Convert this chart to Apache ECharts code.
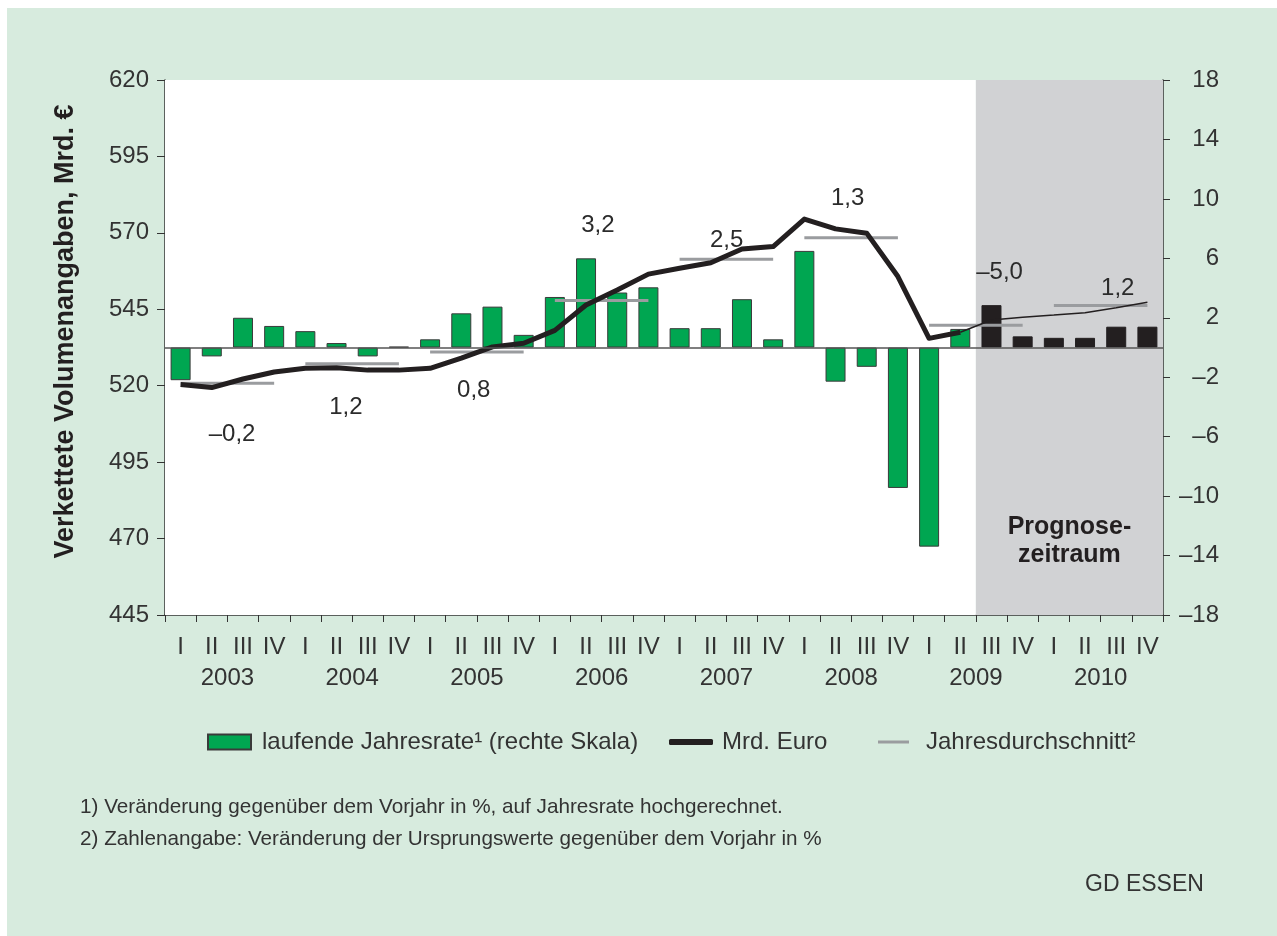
<!DOCTYPE html>
<html><head><meta charset="utf-8">
<script src="https://cdn.jsdelivr.net/npm/echarts@6/dist/echarts.min.js"></script>
<style>
html,body{margin:0;padding:0;background:#fff;}
#bg{position:absolute;left:7px;top:8px;width:1270px;height:928px;background:#d7ebde;}
#chart{position:absolute;left:0;top:0;width:1277px;height:936px;}
</style></head><body>
<div id="bg"></div><div id="chart"></div>
<script>
// ---- data ----
const quarterLabels = ['I', 'II', 'III', 'IV'];
const years = ['2003', '2004', '2005', '2006', '2007', '2008', '2009', '2010'];
// laufende Jahresrate (right axis, %), actual quarters 2003 I – 2009 II
const rateActual = [-2.2, -0.6, 2.0, 1.45, 1.1, 0.3, -0.6, 0.05, 0.55, 2.3, 2.75, 0.85,
  3.4, 6.0, 3.7, 4.05, 1.3, 1.3, 3.25, 0.55, 6.5, -2.3, -1.3, -9.45, -13.4, 1.25];
// forecast quarters 2009 III – 2010 IV
const rateForecast = [2.85, 0.75, 0.65, 0.65, 1.4, 1.4];
// Mrd. Euro (left axis), 2003 I – 2009 II
const volumeActual = [520.4, 519.4, 522.2, 524.5, 525.7, 525.9, 525.1, 525.1, 525.7, 529.0, 532.7, 533.9,
  538.1, 546.4, 551.3, 556.5, 558.4, 560.2, 564.7, 565.5, 574.5, 571.3, 569.9, 555.7, 535.5, 537.5];
// forecast path 2009 II – 2010 IV
const volumeForecast = [537.5, 541.5, 542.4, 543.1, 543.9, 545.5, 547.3];
// Jahresdurchschnitt (left axis)
const annualAvg = [520.8, 527.2, 531.0, 547.9, 561.4, 568.4, 539.8, 546.2];
const annualChange = ['–0,2', '1,2', '0,8', '3,2', '2,5', '1,3', '–5,0', '1,2'];
// annotation anchors for the change labels (quarter index, left-axis value)
const annualLabelX = [1.65, 5.30, 9.40, 13.38, 17.51, 21.39, 26.26, 30.05];
const annualLabelY = [504.0, 512.8, 518.6, 572.6, 567.7, 581.4, 557.2, 552.0];
// first forecast quarter (index of 2009 III)
const forecastFrom = 26;

// ---- derived ----
const categories = years.flatMap(y => quarterLabels.map(q => y + ' ' + q));
const N = categories.length;
const nA = rateActual.length;
const greenBars = categories.map((_, i) => i < nA ? rateActual[i] : null);
const blackBars = categories.map((_, i) => i >= nA ? rateForecast[i - nA] : null);
const volLine = categories.map((_, i) => i < volumeActual.length ? volumeActual[i] : null);
const fcStart = N - volumeForecast.length;
const volFc = categories.map((_, i) => i >= fcStart ? volumeForecast[i - fcStart] : null);
function avgSeries(parity) {
  return categories.map((_, i) => {
    const y = Math.floor(i / 4);
    return (y % 2 === parity) ? annualAvg[y] : null;
  });
}
// hidden helper x axis runs 0..N (band edges); band centre of quarter i = i + 0.5
const labelData = annualChange.map((t, i) => [annualLabelX[i] + 0.5, annualLabelY[i], t]);

const FONT = "'Liberation Sans', Arial, sans-serif";
const TXT = '#333333';
const AXIS = '#333333';
const BAR_NAME = 'laufende Jahresrate¹ (rechte Skala)';
const AVG_NAME = 'Jahresdurchschnitt²';

const chart = echarts.init(document.getElementById('chart'), null, {renderer: 'canvas'});
chart.setOption({
  backgroundColor: 'transparent',
  animation: false,
  textStyle: {fontFamily: FONT},
  grid: {left: 165, right: 114, top: 80, bottom: 321, containLabel: false},
  xAxis: [
    {
      type: 'category', data: categories, position: 'bottom', boundaryGap: true,
      axisLine: {onZero: false, lineStyle: {color: AXIS, width: 1.5}},
      axisTick: {show: true, interval: 0, length: 7, inside: false, lineStyle: {color: AXIS, width: 1}},
      axisLabel: {interval: 0, margin: 20, fontSize: 24, color: TXT, fontFamily: FONT,
        formatter: v => v.split(' ')[1]},
      splitLine: {show: false}
    },
    {type: 'value', min: 0, max: N, show: false, position: 'top',
      axisLine: {show: false, onZero: false}, axisTick: {show: false}, axisLabel: {show: false}, splitLine: {show: false}},
    {
      type: 'category', data: years, position: 'bottom', boundaryGap: true,
      axisLine: {show: false, onZero: false}, axisTick: {show: false}, splitLine: {show: false},
      axisLabel: {interval: 0, margin: 51, fontSize: 24, color: TXT, fontFamily: FONT}
    }
  ],
  yAxis: [
    {
      type: 'value', min: 445, max: 620, interval: 25, position: 'left',
      axisLine: {show: true, onZero: false, lineStyle: {color: AXIS, width: 1.5}},
      axisTick: {show: true, length: 8, lineStyle: {color: AXIS}},
      axisLabel: {fontSize: 24, color: TXT, margin: 16, fontFamily: FONT},
      splitLine: {show: false},
      name: 'Verkettete Volumenangaben, Mrd. €', nameLocation: 'middle', nameGap: 86, nameRotate: 90,
      nameTextStyle: {fontSize: 27, fontWeight: 'bold', color: '#231f20', fontFamily: FONT,
        padding: [0, 0, 0, 32]}
    },
    {
      type: 'value', min: -18, max: 18, interval: 4, position: 'right',
      axisLine: {show: true, onZero: false, lineStyle: {color: AXIS, width: 1.5}},
      axisTick: {show: true, length: 7, lineStyle: {color: AXIS}},
      axisLabel: {fontSize: 24, color: TXT, margin: 56, align: 'right', fontFamily: FONT,
        formatter: v => String(v).replace('-', '–')},
      splitLine: {show: false}
    }
  ],
  legend: [
    {data: [{name: BAR_NAME, icon: 'rect'}], left: 207, top: 730, padding: 0, itemWidth: 43, itemHeight: 15,
      textStyle: {fontSize: 24, color: TXT, fontFamily: FONT, padding: [0, 0, 0, 6]}},
    {data: [{name: 'Mrd. Euro', icon: 'roundRect'}], left: 669, top: 730, padding: 0, itemWidth: 44, itemHeight: 6,
      textStyle: {fontSize: 24, color: TXT, fontFamily: FONT, padding: [0, 0, 0, 4]}},
    {data: [{name: AVG_NAME, icon: 'rect'}], left: 878, top: 730, padding: 0, itemWidth: 31, itemHeight: 3,
      textStyle: {fontSize: 24, color: TXT, fontFamily: FONT, padding: [0, 0, 0, 12]}}
  ],
  series: [
    {
      type: 'line', name: 'area', xAxisIndex: 1, yAxisIndex: 0, data: [],
      showSymbol: false, symbol: 'none', silent: true, z: 0, lineStyle: {width: 0},
      markArea: {
        silent: true,
        data: [
          [{xAxis: 0, yAxis: 445, itemStyle: {color: '#ffffff'}, label: {show: false}}, {xAxis: forecastFrom, yAxis: 620}],
          [{xAxis: forecastFrom, yAxis: 445, itemStyle: {color: '#d1d2d4'},
            label: {show: true, position: 'insideBottom', distance: 46, formatter: 'Prognose-\nzeitraum',
              fontSize: 25, fontWeight: 'bold', color: '#231f20', lineHeight: 28, fontFamily: FONT}},
           {xAxis: N, yAxis: 620}]
        ]
      }
    },
    {
      type: 'bar', name: BAR_NAME, xAxisIndex: 0, yAxisIndex: 1, data: greenBars,
      barWidth: 20, barGap: '-100%', z: 2,
      itemStyle: {color: '#00a651', borderColor: '#3a3a3a', borderWidth: 1},
      markLine: {
        silent: true, symbol: 'none', label: {show: false},
        lineStyle: {color: '#555555', width: 1.5, type: 'solid'},
        data: [{yAxis: 0}]
      }
    },
    {
      type: 'bar', name: 'Prognose', xAxisIndex: 0, yAxisIndex: 1, data: blackBars,
      barWidth: 20, barGap: '-100%', z: 2,
      itemStyle: {color: '#231f20', borderColor: '#231f20', borderWidth: 1}
    },
    {
      type: 'line', name: AVG_NAME, xAxisIndex: 0, yAxisIndex: 0, data: avgSeries(0),
      symbol: 'none', z: 3, lineStyle: {color: '#9a9c9f', width: 3}, itemStyle: {color: '#9a9c9f'}
    },
    {
      type: 'line', name: AVG_NAME, xAxisIndex: 0, yAxisIndex: 0, data: avgSeries(1),
      symbol: 'none', z: 3, lineStyle: {color: '#9a9c9f', width: 3}, itemStyle: {color: '#9a9c9f'}
    },
    {
      type: 'line', name: 'Mrd. Euro', xAxisIndex: 0, yAxisIndex: 0, data: volLine,
      symbol: 'none', z: 4, lineStyle: {color: '#231f20', width: 5, join: 'round'}, itemStyle: {color: '#231f20'}
    },
    {
      type: 'line', name: 'Mrd. Euro Prognose', xAxisIndex: 0, yAxisIndex: 0, data: volFc,
      symbol: 'none', z: 4, lineStyle: {color: '#231f20', width: 1.5}, itemStyle: {color: '#231f20'}
    },
    {
      type: 'scatter', name: 'labels', xAxisIndex: 1, yAxisIndex: 0, data: labelData,
      symbolSize: 0, silent: true, z: 5, itemStyle: {color: '#2b2b2b', opacity: 1},
      label: {show: true, position: 'inside', formatter: p => p.data[2], opacity: 1,
        fontSize: 24, color: '#2b2b2b', textBorderWidth: 0, fontFamily: FONT}
    }
  ],
  graphic: [
    {type: 'text', left: 80, top: 797, silent: true,
      style: {text: '1) Veränderung gegenüber dem Vorjahr in %, auf Jahresrate hochgerechnet.',
        fontSize: 20.7, fontFamily: FONT, fill: TXT}},
    {type: 'text', left: 80, top: 829, silent: true,
      style: {text: '2) Zahlenangabe: Veränderung der Ursprungswerte gegenüber dem Vorjahr in %',
        fontSize: 20.7, fontFamily: FONT, fill: TXT}},
    {type: 'text', left: 1085, top: 873, silent: true,
      style: {text: 'GD ESSEN', fontSize: 23, fontFamily: FONT, fill: TXT}}
  ]
});
</script>
</body></html>
